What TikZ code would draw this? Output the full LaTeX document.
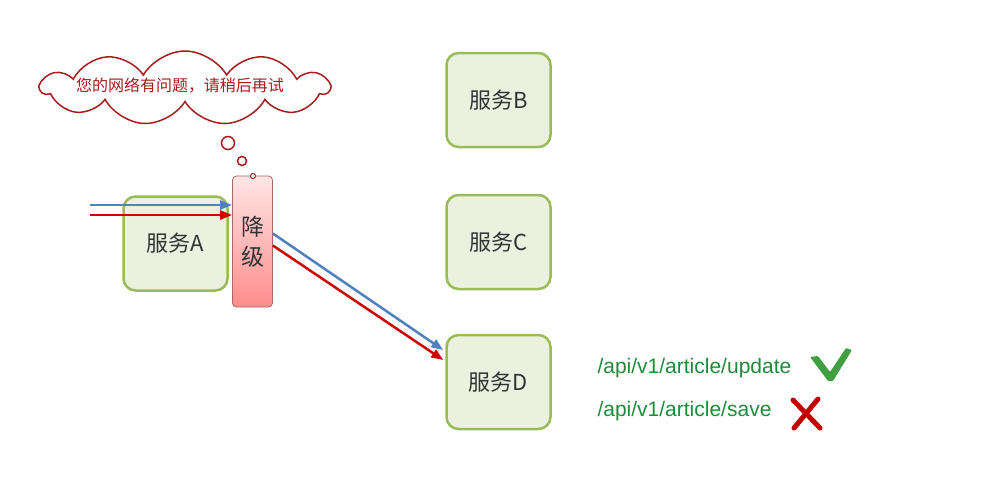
\documentclass[tikz,border=0pt]{standalone}
\usepackage{fontspec}
\setmainfont{Liberation Sans}
\newfontfamily\cjk{Noto Sans CJK SC}
\usetikzlibrary{positioning, calc, arrows.meta, shapes.symbols}
\definecolor{boxgreen}{HTML}{9BBB59}
\definecolor{boxfill}{HTML}{EBF1DE}
\definecolor{cloudred}{HTML}{A51C1C}
\definecolor{apigreen}{HTML}{1F8A3A}
\definecolor{arrowblue}{HTML}{4F81BD}
\definecolor{arrowred}{HTML}{D00000}
\tikzset{>={Triangle[length=12pt,width=9pt]}}

\begin{document}
\begin{tikzpicture}
    [x=1pt, y=-1pt,
     service/.style={draw=boxgreen, line width=2.5pt, fill=boxfill, rounded corners=12pt,
       minimum width=104pt, minimum height=94pt,
       font=\cjk\fontsize{22}{26}\selectfont, text=black!80},
     fallback/.style={draw=red!45!black!60, line width=0.8pt, rounded corners=4pt,
       top color=red!10, bottom color=red!45,
       minimum width=40pt, minimum height=131pt, align=center,
       font=\cjk\fontsize{23}{30}\selectfont, text=black!80},
     bubble/.style={draw=cloudred, line width=1.5pt, fill=white, circle, inner sep=0pt},
     flow/.style={->, line width=2.5pt},
     api/.style={text=apigreen, font=\fontsize{21}{25}\selectfont, anchor=west}]
    \useasboundingbox (0,0) rectangle (986,477);

    % services
    \node[service] (a) at (175.5,243.5) {服务A};
    \node[service] (b) at (498.5,100) {服务B};
    \node[service] (c) at (498.5,242) {服务C};
    \node[service] (d) at (498.5,382) {服务D};

    % fallback
    \node[fallback] (f) at (252.5,241.5) {降\\级};

    % thought
    \node[cloud, cloud puffs=11, cloud puff arc=120, cloud ignores aspect, inner sep=0pt,
      draw=cloudred, line width=1.5pt, minimum width=288pt, minimum height=74pt] (msg) at (185,88) {};
    \node[text=cloudred, font=\cjk\fontsize{16}{19}\selectfont] (msgtext) at (180,86)
      {您的网络有问题，请稍后再试};
    \node[bubble, minimum size=13pt] (t1) at (228,143) {};
    \node[bubble, minimum size=9pt] (t2) at (242,161) {};
    \node[bubble, minimum size=5pt, line width=1pt] (t3) at (253,176) {};

    % requests
    \coordinate (in1) at (90,205);
    \coordinate (in2) at (90,215);
    \draw[flow, arrowblue] (in1) -- (in1 -| f.west);
    \draw[flow, arrowred] (in2) -- (in2 -| f.west);
    \draw[flow, arrowblue] ($(f.east)+(0,-8)$) -- ($(d.west)+(-2,-32)$);
    \draw[flow, arrowred] ($(f.east)+(0,4)$) -- ($(d.west)+(-2,-22)$);

    % apis
    \node[api] (up) at (594,368) {/api/v1/article/update};
    \node[api] (sv) at (594,411) {/api/v1/article/save};
    \fill[green!50!black!75, rounded corners=1pt] (810,357) -- (818,356) -- (830,372)
      -- (846,348) -- (852,350) -- (833,381) -- (828,381) -- cycle;
    \draw[red!75!black, line width=5pt, line cap=round] (793,400) -- (820,428);
    \draw[red!75!black, line width=5pt, line cap=round] (818,399) -- (794,428);
\end{tikzpicture}
\end{document}
